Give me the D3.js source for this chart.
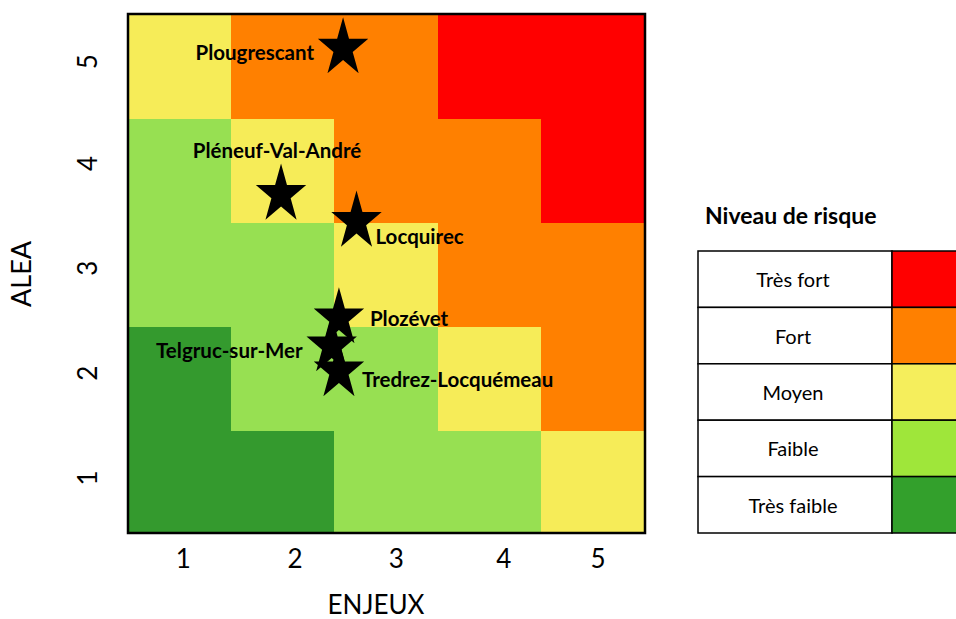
<!DOCTYPE html>
<html><head><meta charset="utf-8">
<script src="https://cdn.jsdelivr.net/npm/d3@7"></script>
<style>html,body{margin:0;padding:0;background:#fff;overflow:hidden}</style>
</head><body>
<svg id="chart" width="956" height="619"></svg>
<script>
// ---------- data ----------
const enjeuxLevels = [1, 2, 3, 4, 5];
const aleaLevels = [1, 2, 3, 4, 5];
const xTickLabels = ["1", "2", "3", "4", "5"];
const xTickAt = [1.03, 2.11, 3.09, 4.13, 5.04];
const yTickLabels = ["1", "2", "3", "4", "5"];
const yTickAt = [1.03, 2.04, 3.05, 4.06, 5.04];
// risk level index (0 = Très faible ... 4 = Très fort); rows = alea 1..5, columns = enjeux 1..5
const riskMatrix = [
  [0, 0, 1, 1, 2],
  [0, 1, 1, 2, 3],
  [1, 1, 2, 3, 3],
  [1, 2, 3, 3, 4],
  [2, 3, 3, 4, 4]
];
const riskLevels = ["Très faible", "Faible", "Moyen", "Fort", "Très fort"];
const gridColors = ["#349a2e", "#97e052", "#f6ec58", "#ff8000", "#ff0000"];
const legendColors = ["#33a02c", "#9fe63a", "#f5ee5c", "#ff8000", "#ff0000"];
const communes = ["Plougrescant", "Pléneuf-Val-André", "Locquirec", "Plozévet", "Telgruc-sur-Mer", "Tredrez-Locquémeau"];
const communeEnjeux = [2.58, 1.98, 2.71, 2.54, 2.47, 2.54];
const communeAlea = [5.17, 3.76, 3.50, 2.57, 2.30, 2.06];

// ---------- layout ----------
const labelLayout = [
  {anchor: "end", dx: -29, dy: 12},
  {anchor: "middle", dx: -4, dy: -37},
  {anchor: "start", dx: 19, dy: 22},
  {anchor: "start", dx: 31, dy: 8},
  {anchor: "end", dx: -29, dy: 12},
  {anchor: "start", dx: 23, dy: 16}
];
const plot = {left: 128, right: 645, top: 14, bottom: 533};
const svg = d3.select("#chart");

const x = d3.scaleLinear().domain([0.5, 5.5]).range([plot.left, plot.right]);
const y = d3.scaleLinear().domain([0.5, 5.5]).range([plot.bottom, plot.top]);
const color = d3.scaleOrdinal().domain(d3.range(riskLevels.length)).range(gridColors);

// cells
const cells = [];
aleaLevels.forEach((a, i) => enjeuxLevels.forEach((e, j) => cells.push({e, a, r: riskMatrix[i][j]})));
svg.append("g").attr("shape-rendering", "crispEdges").selectAll("rect").data(cells).join("rect")
  .attr("x", d => Math.floor(x(d.e - 0.5)))
  .attr("y", d => Math.floor(y(d.a + 0.5)))
  .attr("width", d => Math.ceil(x(d.e + 0.5)) - Math.floor(x(d.e - 0.5)) + 1)
  .attr("height", d => Math.ceil(y(d.a - 0.5)) - Math.floor(y(d.a + 0.5)) + 1)
  .attr("fill", d => color(d.r));

// frame
svg.append("rect")
  .attr("x", plot.left).attr("y", plot.top)
  .attr("width", plot.right - plot.left).attr("height", plot.bottom - plot.top)
  .attr("fill", "none").attr("stroke", "#000").attr("stroke-width", 2.5);

// stars
function starPath(rx, ry) {
  const pts = [];
  for (let k = 0; k < 10; k++) {
    const ang = -Math.PI / 2 + k * Math.PI / 5;
    const f = k % 2 === 0 ? 1 : 0.382;
    pts.push([Math.cos(ang) * rx * f, Math.sin(ang) * ry * f]);
  }
  return "M" + pts.map(p => p.join(",")).join("L") + "Z";
}
const star = starPath(26.5, 31);
const pts = communes.map((n, i) => ({name: n, e: communeEnjeux[i], a: communeAlea[i], lay: labelLayout[i]}));
svg.append("g").selectAll("path").data(pts).join("path")
  .attr("d", star)
  .attr("transform", d => `translate(${x(d.e)},${y(d.a)})`)
  .attr("fill", "#000");
svg.append("g").selectAll("text").data(pts).join("text")
  .attr("x", d => x(d.e) + d.lay.dx)
  .attr("y", d => y(d.a) + d.lay.dy)
  .attr("text-anchor", d => d.lay.anchor)
  .attr("font-family", "Lato, sans-serif").attr("font-weight", "bold")
  .attr("font-size", 20.5).attr("fill", "#000")
  .text(d => d.name);

// x axis labels
const xAxis = d3.axisBottom(x).tickValues(xTickAt).tickFormat((d, i) => xTickLabels[i]).tickSize(0).tickPadding(0);
const gx = svg.append("g").attr("transform", `translate(0,${plot.bottom + 12})`).call(xAxis);
gx.select(".domain").remove();
gx.selectAll("text").attr("font-family", "Lato, sans-serif").attr("font-size", 26).attr("fill", "#000")
  .attr("dy", "0.9em");

// y axis labels (rotated)
svg.append("g").selectAll("text").data(yTickAt).join("text")
  .attr("transform", d => `translate(88,${y(d)}) rotate(-90)`)
  .attr("text-anchor", "middle").attr("dy", "0.35em")
  .attr("font-family", "Lato, sans-serif").attr("font-size", 26).attr("fill", "#000")
  .text((d, i) => yTickLabels[i]);

// axis titles
svg.append("text").attr("x", 376).attr("y", 614).attr("text-anchor", "middle")
  .attr("font-family", "Lato, sans-serif").attr("font-size", 26).attr("fill", "#000").text("ENJEUX");
svg.append("text").attr("transform", "translate(31,274) rotate(-90)").attr("text-anchor", "middle")
  .attr("font-family", "Lato, sans-serif").attr("font-size", 27).attr("fill", "#000").text("ALEA");

// legend
const leg = {x: 698, split: 892, right: 975, top: 251, rowH: 56.4};
svg.append("text").attr("x", 705).attr("y", 224)
  .attr("font-family", "Lato, sans-serif").attr("font-weight", "bold").attr("font-size", 23).attr("fill", "#000")
  .text("Niveau de risque");
const legOrder = d3.range(riskLevels.length).reverse();
const lg = svg.append("g");
legOrder.forEach((r, i) => {
  const yy = leg.top + i * leg.rowH;
  lg.append("rect").attr("x", leg.x).attr("y", yy).attr("width", leg.split - leg.x).attr("height", leg.rowH)
    .attr("fill", "#fff").attr("stroke", "#000").attr("stroke-width", 1.5);
  lg.append("rect").attr("x", leg.split).attr("y", yy).attr("width", leg.right - leg.split).attr("height", leg.rowH)
    .attr("fill", legendColors[r]).attr("stroke", "#000").attr("stroke-width", 1.5);
  lg.append("text").attr("x", (leg.x + leg.split) / 2 - 2).attr("y", yy + leg.rowH / 2 + 1).attr("dy", "0.35em")
    .attr("text-anchor", "middle").attr("font-family", "Lato, sans-serif").attr("font-size", 20).attr("fill", "#000")
    .text(riskLevels[r]);
});
</script>
</body></html>
